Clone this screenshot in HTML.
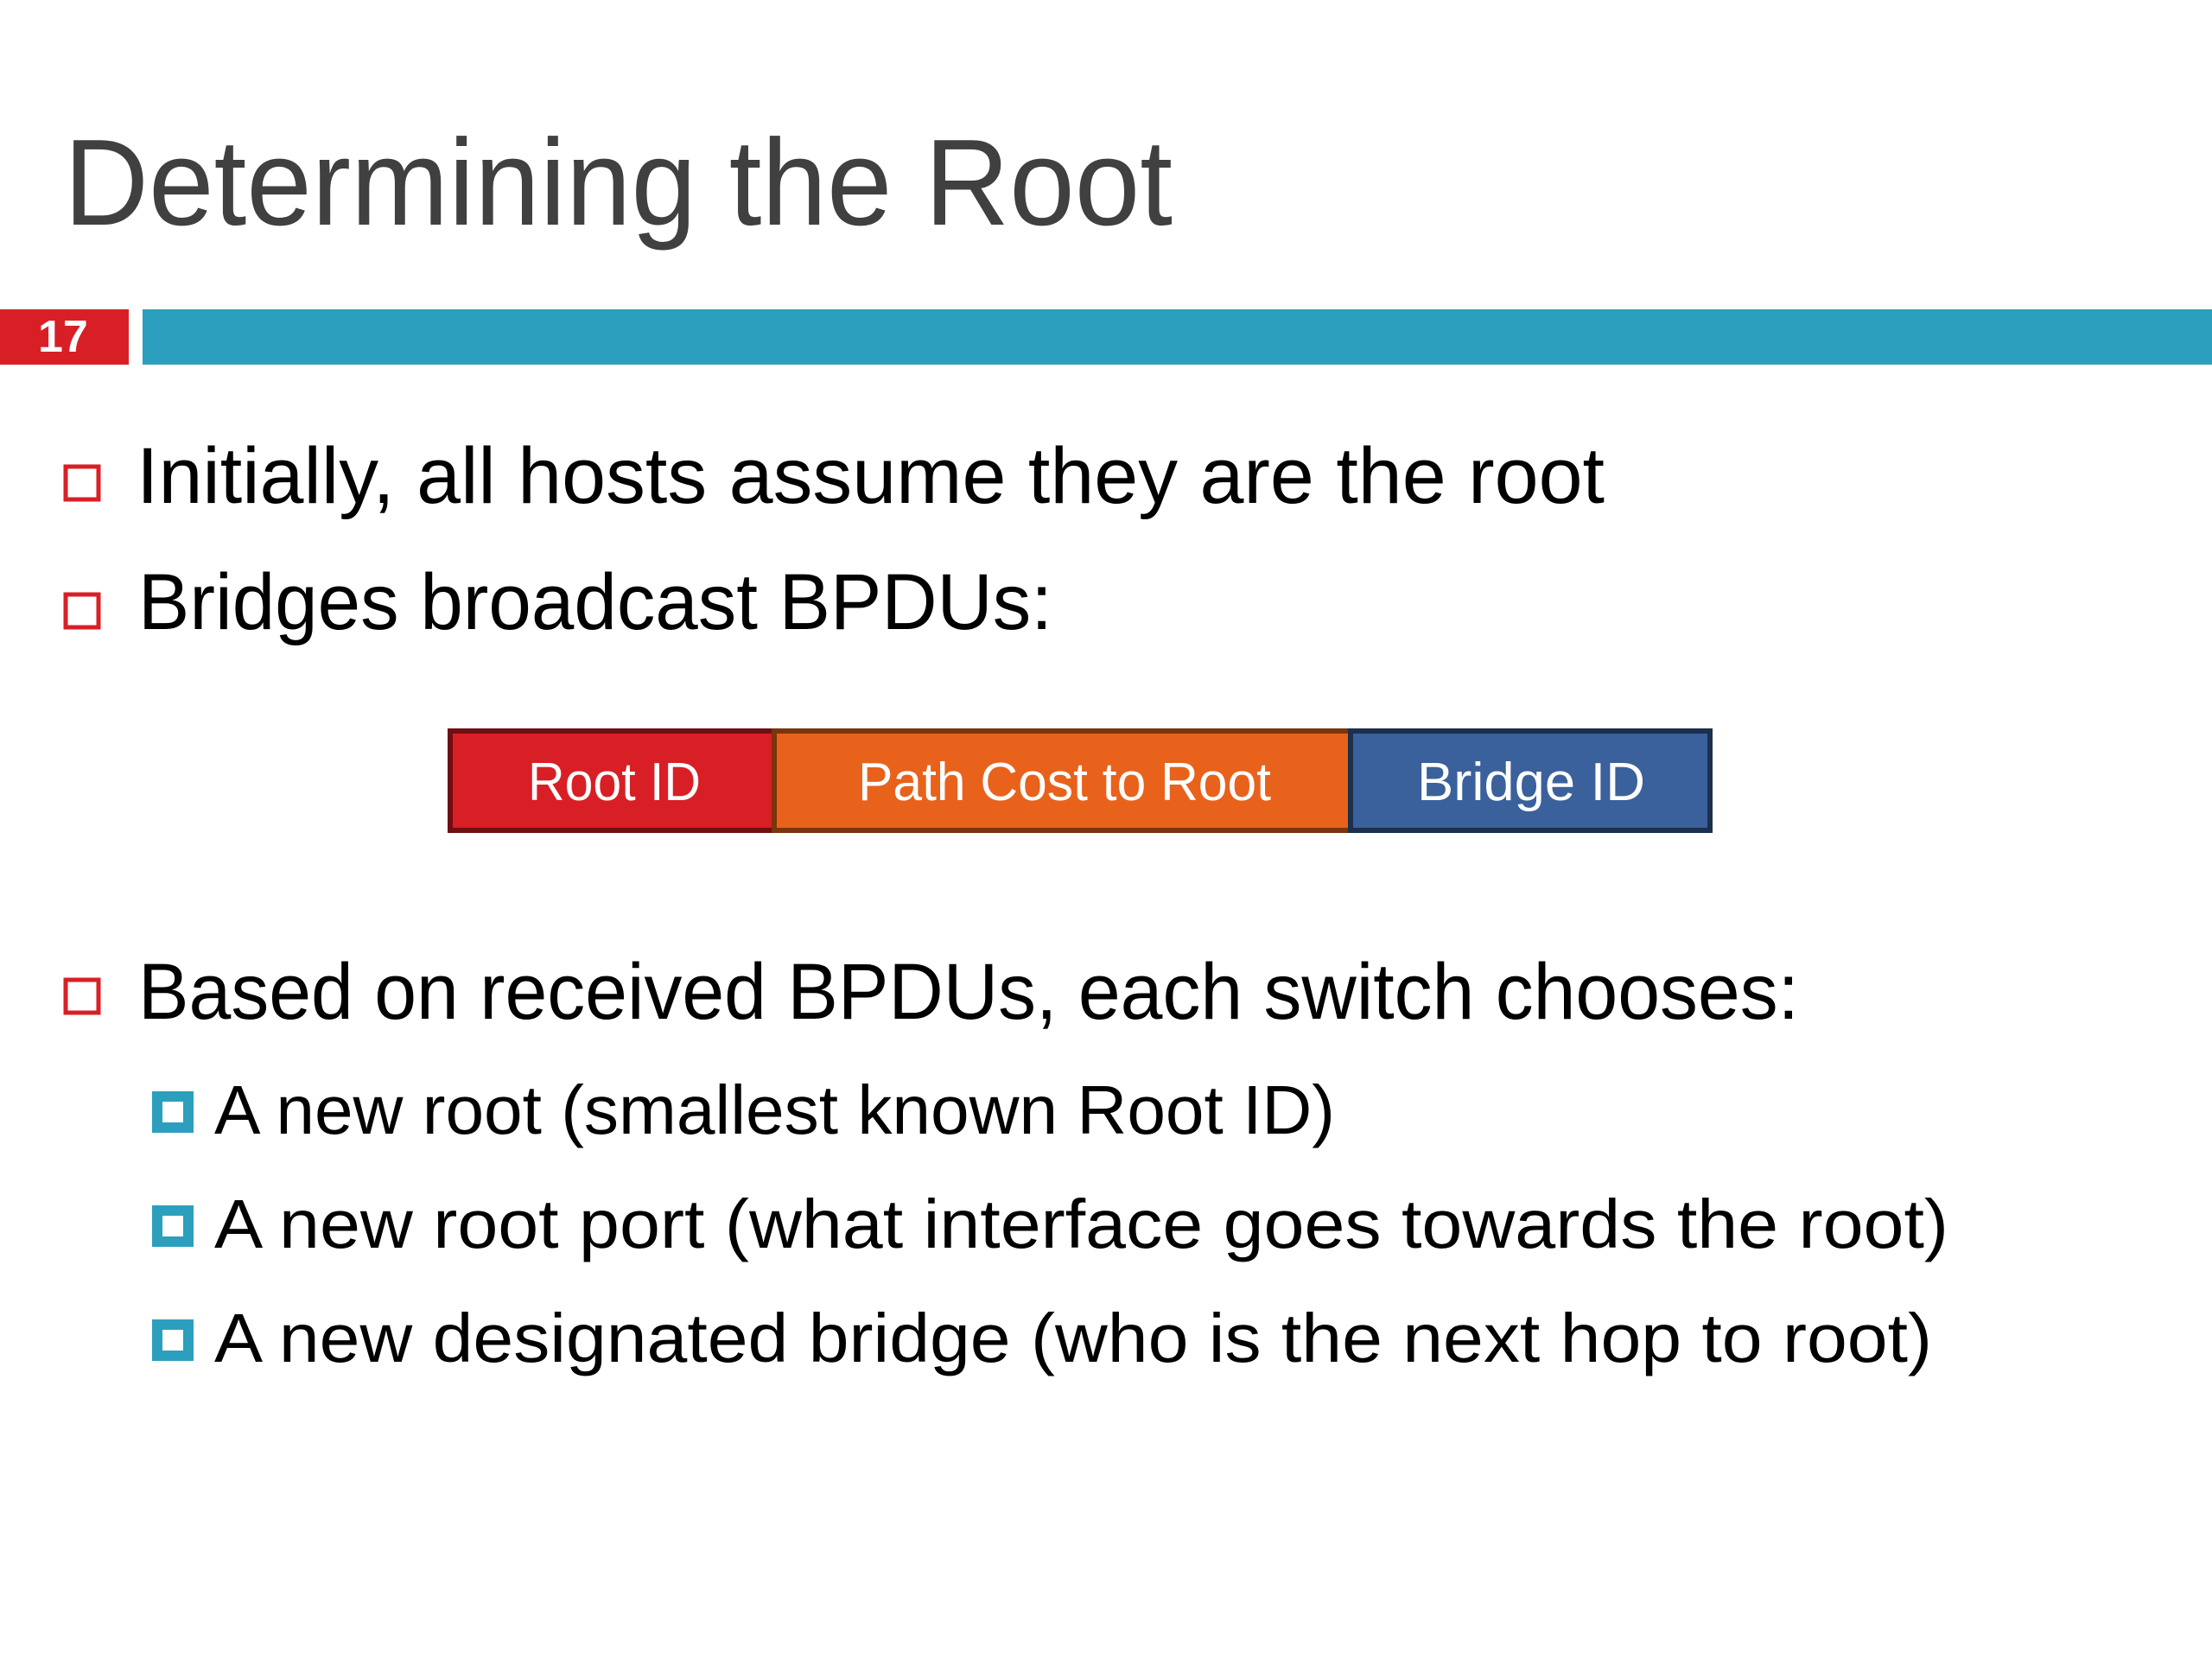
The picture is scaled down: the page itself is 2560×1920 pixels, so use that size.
<!DOCTYPE html>
<html><head><meta charset="utf-8"><style>
html,body{margin:0;padding:0;background:#fff;}
svg{display:block;}
text{font-family:"Liberation Sans",sans-serif;}
</style></head><body>
<svg width="2560" height="1920" viewBox="0 0 2560 1920" xmlns="http://www.w3.org/2000/svg">
<rect width="2560" height="1920" fill="#fff"/>
<text x="74" y="260" font-size="142" fill="#404040" textLength="1283" lengthAdjust="spacingAndGlyphs">Determining the Root</text>
<rect x="0" y="358" width="149" height="64" fill="#d91f26"/>
<text x="44" y="407" font-size="52" font-weight="bold" fill="#fff">17</text>
<rect x="165" y="358" width="2395" height="64" fill="#2b9fbd"/>

<rect x="76" y="540" width="38" height="38" fill="none" stroke="#d91f26" stroke-width="5"/>
<text x="158" y="582" font-size="92" fill="#000" textLength="1699" lengthAdjust="spacingAndGlyphs">Initially, all hosts assume they are the root</text>
<rect x="76" y="688" width="38" height="38" fill="none" stroke="#d91f26" stroke-width="5"/>
<text x="160" y="728" font-size="92" fill="#000" textLength="1058" lengthAdjust="spacingAndGlyphs">Bridges broadcast BPDUs:</text>

<rect x="521" y="846" width="375" height="115" fill="#d91f26" stroke="#6e0f14" stroke-width="6"/>
<rect x="896" y="846" width="667" height="115" fill="#e8621c" stroke="#7a340e" stroke-width="6"/>
<rect x="1563" y="846" width="416" height="115" fill="#3a619b" stroke="#1c2f4c" stroke-width="6"/>
<text x="711" y="926" font-size="62" fill="#fff" text-anchor="middle" textLength="200" lengthAdjust="spacingAndGlyphs">Root ID</text>
<text x="1232" y="926" font-size="62" fill="#fff" text-anchor="middle" textLength="478" lengthAdjust="spacingAndGlyphs">Path Cost to Root</text>
<text x="1772" y="926" font-size="62" fill="#fff" text-anchor="middle" textLength="264" lengthAdjust="spacingAndGlyphs">Bridge ID</text>

<rect x="76" y="1134" width="38" height="38" fill="none" stroke="#d91f26" stroke-width="5"/>
<text x="160" y="1179" font-size="92" fill="#000" textLength="1922" lengthAdjust="spacingAndGlyphs">Based on received BPDUs, each switch chooses:</text>

<rect x="182" y="1269" width="36" height="36" fill="none" stroke="#2b9fbd" stroke-width="12"/>
<text x="248" y="1312" font-size="80" fill="#000" textLength="1297" lengthAdjust="spacingAndGlyphs">A new root (smallest known Root ID)</text>
<rect x="182" y="1401" width="36" height="36" fill="none" stroke="#2b9fbd" stroke-width="12"/>
<text x="248" y="1444" font-size="80" fill="#000" textLength="2007" lengthAdjust="spacingAndGlyphs">A new root port (what interface goes towards the root)</text>
<rect x="182" y="1533" width="36" height="36" fill="none" stroke="#2b9fbd" stroke-width="12"/>
<text x="248" y="1576" font-size="80" fill="#000" textLength="1988" lengthAdjust="spacingAndGlyphs">A new designated bridge (who is the next hop to root)</text>
</svg>
</body></html>
